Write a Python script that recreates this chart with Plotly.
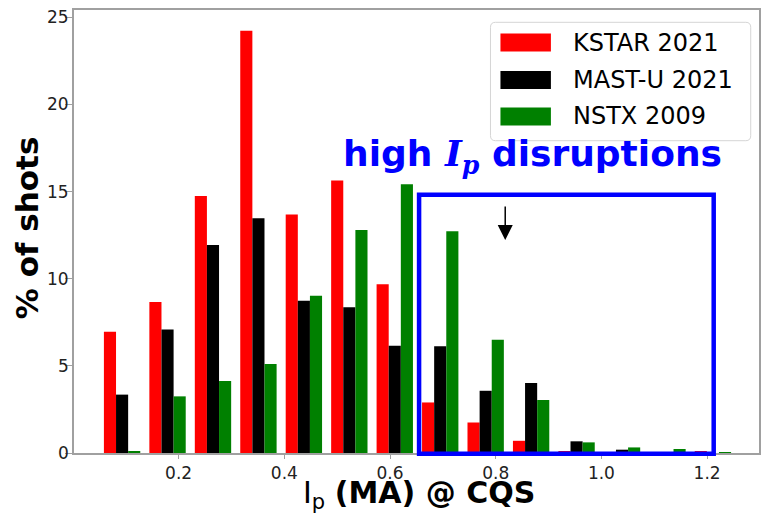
import plotly.graph_objects as go

# Plasma current at the current-quench start (bin centres, MA)
ip_centers = [0.093, 0.179, 0.265, 0.351, 0.437, 0.523, 0.609,
              0.695, 0.781, 0.867, 0.953, 1.039, 1.125, 1.211]

# Percentage of shots per bin for each device
kstar_2021 = [6.96, 8.66, 14.75, 24.23, 13.68, 15.63, 9.69,
              2.90, 1.75, 0.70, 0.08, 0.0, 0.0, 0.10]
mastu_2021 = [3.35, 7.09, 11.93, 13.47, 8.73, 8.37, 6.15,
              6.13, 3.57, 4.01, 0.67, 0.19, 0.0, 0.0]
nstx_2009 = [0.06, 3.25, 4.13, 5.10, 9.02, 12.79, 15.42,
             12.73, 6.50, 3.04, 0.61, 0.32, 0.23, 0.05]

series_names = ["KSTAR 2021", "MAST-U 2021", "NSTX 2009"]
series_values = [kstar_2021, mastu_2021, nstx_2009]
series_colors = ["#ff0000", "#000000", "#008000"]

x_ticks = [0.2, 0.4, 0.6, 0.8, 1.0, 1.2]
x_tick_labels = ["0.2", "0.4", "0.6", "0.8", "1.0", "1.2"]
y_ticks = [0, 5, 10, 15, 20, 25]
y_tick_labels = ["0", "5", "10", "15", "20", "25"]

# Highlighted high-Ip region (data units) and the arrow into it
box_x = [0.655, 1.2125]
box_y = [-0.05, 14.82]
arrow_x = 0.818
arrow_y = [14.23, 12.22]

W, H = 761, 513
M_L, M_R, M_T, M_B = 74, 0, 10, 60
X_RANGE = [0.002, 0.002 + (W - M_L - M_R) / 530.0]
Y_RANGE = [0.0, 25.42]
FONT = "DejaVu Sans"
SPINE = "#a0a0a0"
TICK_FONT = dict(family=FONT, size=17, color="#222222")


def px_x(p):
    return (p - M_L) / (W - M_L - M_R)


def px_y(p):
    return (H - M_B - p) / (H - M_T - M_B)


def data_y(v):
    return (v - Y_RANGE[0]) / (Y_RANGE[1] - Y_RANGE[0])


fig = go.Figure()
for name, vals, col in zip(series_names, series_values, series_colors):
    fig.add_trace(go.Bar(
        x=ip_centers, y=vals, name=name,
        marker=dict(color=col, line=dict(width=0)),
        showlegend=False,
    ))

shapes = []
annotations = []

# y tick labels sit close to their tick marks
for v, lab in zip(y_ticks, y_tick_labels):
    annotations.append(dict(
        x=px_x(70), y=v, xref="paper", yref="y",
        xanchor="right", yanchor="middle", showarrow=False,
        text=lab, font=TICK_FONT, borderpad=0,
    ))

# High-Ip box
shapes.append(dict(
    type="rect", xref="x", yref="paper",
    x0=box_x[0], x1=box_x[1], y0=data_y(box_y[0]), y1=data_y(box_y[1]),
    line=dict(color="#0000ff", width=4.5), fillcolor="rgba(0,0,0,0)",
    layer="above",
))

annotations.append(dict(
    x=arrow_x, y=arrow_y[1], ax=arrow_x, ay=arrow_y[0],
    xref="x", yref="y", axref="x", ayref="y",
    text="", showarrow=True, arrowhead=2, arrowsize=2.0,
    arrowwidth=1.5, arrowcolor="#000000",
))

annotations.append(dict(
    x=px_x(534), y=px_y(156), xref="paper", yref="paper",
    xanchor="center", yanchor="middle", showarrow=False,
    text=("high <span style=\"font-family:'DejaVu Serif'\"><i>I</i>"
          "<sub><i>p</i></sub></span> disruptions"),
    font=dict(family=FONT, size=36, color="#0000ff", weight="bold"),
))

# Legend panel
lx0, lx1, ly0, ly1, r = 491.7, 752.7, 22.3, 140.7, 5.0
path = (
    f"M {px_x(lx0 + r)},{px_y(ly0)} L {px_x(lx1 - r)},{px_y(ly0)} "
    f"Q {px_x(lx1)},{px_y(ly0)} {px_x(lx1)},{px_y(ly0 + r)} "
    f"L {px_x(lx1)},{px_y(ly1 - r)} "
    f"Q {px_x(lx1)},{px_y(ly1)} {px_x(lx1 - r)},{px_y(ly1)} "
    f"L {px_x(lx0 + r)},{px_y(ly1)} "
    f"Q {px_x(lx0)},{px_y(ly1)} {px_x(lx0)},{px_y(ly1 - r)} "
    f"L {px_x(lx0)},{px_y(ly0 + r)} "
    f"Q {px_x(lx0)},{px_y(ly0)} {px_x(lx0 + r)},{px_y(ly0)} Z"
)
shapes.append(dict(type="path", xref="paper", yref="paper", path=path,
                   line=dict(color="#d5d5d5", width=1),
                   fillcolor="rgba(255,255,255,0.85)", layer="above"))
row_centers = [42.5, 80.0, 116.5]
for name, col, yc in zip(series_names, series_colors, row_centers):
    shapes.append(dict(type="rect", xref="paper", yref="paper",
                       x0=px_x(501.7), x1=px_x(552.3),
                       y0=px_y(yc + 9), y1=px_y(yc - 9),
                       fillcolor=col, line=dict(width=0), layer="above"))
    annotations.append(dict(
        x=px_x(572), y=px_y(yc), xref="paper", yref="paper",
        xanchor="left", yanchor="middle", showarrow=False, text=name,
        font=dict(family=FONT, size=24, color="#000000"),
    ))

# Axis titles
annotations.append(dict(
    x=px_x(420), y=px_y(494), xref="paper", yref="paper",
    xanchor="center", yanchor="middle", showarrow=False,
    text="I<sub>p</sub> <b>(MA) @ CQS</b>",
    font=dict(family=FONT, size=30, color="#000000"), borderpad=0,
))
annotations.append(dict(
    x=px_x(27), y=px_y(228), xref="paper", yref="paper",
    xanchor="center", yanchor="middle", showarrow=False, textangle=-90,
    text="<b>% of shots</b>",
    font=dict(family=FONT, size=31, color="#000000"),
))

fig.update_layout(
    width=W, height=H,
    margin=dict(l=M_L, r=M_R, t=M_T, b=M_B, pad=0),
    paper_bgcolor="white", plot_bgcolor="white",
    barmode="group", bargap=0.2, bargroupgap=0.0,
    font=dict(family=FONT, size=17, color="#222222"),
    shapes=shapes, annotations=annotations,
    xaxis=dict(
        range=X_RANGE, tickvals=x_ticks, ticktext=x_tick_labels,
        showgrid=False, zeroline=False, showline=True, mirror=True,
        linecolor=SPINE, linewidth=1.5, ticks="outside", ticklen=4,
        tickwidth=1.2, tickcolor=SPINE, tickfont=TICK_FONT,
    ),
    yaxis=dict(
        range=Y_RANGE, tickvals=y_ticks, showticklabels=False,
        showgrid=False, zeroline=False, showline=True, mirror=True,
        linecolor=SPINE, linewidth=1.5, ticks="outside", ticklen=7,
        tickwidth=1.2, tickcolor=SPINE,
    ),
)

fig.write_html("out.html")
